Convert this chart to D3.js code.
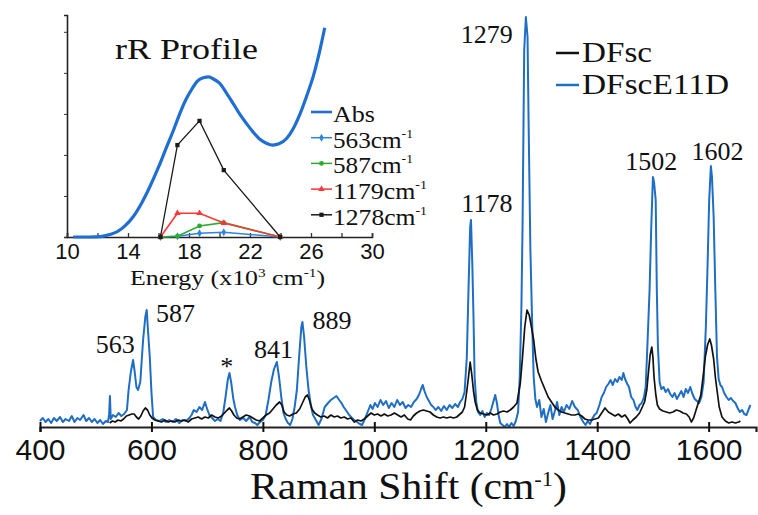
<!DOCTYPE html>
<html>
<head>
<meta charset="utf-8">
<script src="https://cdn.jsdelivr.net/npm/d3@7"></script>
<style>
body { margin: 0; background: #fff; }
svg { display: block; }
</style>
</head>
<body>
<svg id="chart" width="758" height="515"></svg>
<script>
// resonance Raman spectra, [Raman shift (cm-1), intensity (a.u.)]
const dfsc = [
  [525,4],[530,6],[535,5],[540,7],[545,6],[550,8],[555,11],[560,12],[565,13],[569,13],[573,10],[577,8],[581,11],[585,16],[589,19],[593,17],[597,12],[601,9],[606,7],[612,6],[618,5],[624,7],[630,5],[636,6],[642,5],[648,7],[654,6],[660,7],[666,5],[672,8],[678,9],[684,10],[690,8],[696,10],[702,9],[708,12],[714,10],[720,9],[726,11],[731,14],[736,17],[740,19],[744,16],[748,12],[753,9],[758,8],[764,10],[770,12],[776,11],[782,9],[788,7],[794,6],[800,9],[806,12],[812,14],[818,18],[824,22],[830,25],[834,22],[838,15],[843,12],[848,11],[854,13],[860,14],[866,18],[871,24],[876,30],[880,32],[884,26],[888,18],[893,14],[898,12],[904,10],[910,11],[916,9],[922,12],[928,10],[934,11],[940,9],[946,10],[952,8],[958,9],[964,5],[970,7],[976,6],[982,8],[988,11],[994,14],[1000,12],[1006,13],[1012,11],[1018,13],[1024,11],[1030,12],[1036,14],[1042,12],[1048,10],[1054,12],[1060,8],[1065,7],[1070,11],[1076,14],[1082,16],[1088,17],[1094,16],[1100,15],[1106,12],[1112,10],[1118,9],[1124,10],[1130,9],[1136,10],[1142,9],[1148,10],[1154,13],[1158,15],[1162,20],[1166,36],[1169,50],[1172,65],[1175,52],[1178,36],[1181,25],[1185,17],[1190,14],[1196,13],[1202,12],[1208,14],[1214,12],[1220,13],[1226,15],[1232,16],[1238,15],[1244,17],[1250,20],[1256,24],[1262,44],[1266,70],[1270,100],[1274,117],[1278,112],[1282,100],[1286,87],[1290,68],[1294,55],[1300,46],[1306,38],[1312,30],[1318,25],[1324,20],[1330,17],[1336,15],[1342,14],[1348,13],[1354,12],[1360,12],[1366,13],[1372,11],[1378,8],[1384,7],[1390,7],[1396,8],[1402,9],[1408,14],[1414,19],[1420,15],[1426,13],[1432,11],[1438,13],[1444,10],[1450,12],[1455,8],[1459,4],[1464,7],[1470,10],[1476,14],[1481,20],[1485,25],[1489,37],[1492,55],[1495,72],[1498,80],[1500,70],[1502,50],[1505,33],[1508,22],[1512,18],[1518,16],[1524,15],[1530,14],[1536,15],[1542,17],[1548,16],[1554,14],[1560,13],[1565,10],[1569,5],[1573,9],[1578,18],[1582,25],[1586,32],[1590,50],[1594,70],[1598,82],[1602,88],[1605,82],[1609,68],[1612,50],[1615,37],[1619,20],[1624,10],[1630,6],[1636,4],[1642,5],[1648,4],[1654,5],[1657,6]
];
const dfscE11D = [
  [400,6],[405,9],[410,5],[415,8],[420,4],[425,9],[430,6],[436,10],[441,5],[446,8],[452,6],[457,11],[462,5],[467,9],[472,7],[478,12],[483,6],[488,9],[493,5],[498,8],[503,4],[508,7],[513,3],[518,6],[522,5],[524,12],[525.5,31],[527,8],[531,12],[536,10],[541,14],[546,11],[551,13],[556,17],[559,37],[563,55],[567,67],[570,55],[573,40],[576,37],[580,45],[585,87],[589,110],[591.5,117],[594,95],[597,70],[600,35],[603,10],[608,7],[614,6],[620,8],[626,5],[632,7],[638,5],[644,8],[650,4],[656,7],[662,6],[668,9],[672,12],[676,17],[681,15],[686,20],[691,17],[696,25],[700,18],[704,12],[709,9],[714,6],[719,8],[724,6],[729,15],[733,30],[737,47],[740,54],[743,45],[747,28],[750,20],[754,12],[759,7],[765,9],[770,6],[776,10],[781,5],[786,4],[790,2],[795,5],[800,7],[805,12],[810,27],[815,45],[820,58],[825,65],[829,50],[833,30],[837,14],[841,8],[845,4],[849,2],[853,8],[857,20],[861,37],[865,70],[869,100],[871,105],[874,90],[878,60],[882,37],[886,22],[890,12],[894,8],[900,2],[905,8],[911,20],[917,24],[922,27],[927,29],[932,31],[937,27],[941,24],[945,20],[950,16],[955,12],[960,9],[964,7],[969,5],[974,3],[978,2],[983,8],[988,15],[993,22],[997,18],[1001,24],[1006,20],[1011,27],[1016,22],[1021,26],[1026,19],[1031,24],[1036,20],[1041,27],[1046,22],[1051,25],[1056,19],[1061,22],[1066,20],[1071,25],[1076,28],[1080,32],[1084,38],[1087,42],[1090,36],[1094,30],[1098,26],[1102,22],[1106,20],[1110,17],[1115,20],[1120,16],[1125,21],[1130,17],[1135,22],[1140,19],[1145,23],[1150,20],[1154,25],[1158,28],[1162,35],[1166,70],[1169,137],[1172,200],[1173.5,207],[1176,160],[1178,110],[1180,50],[1183,25],[1186,15],[1190,12],[1194,16],[1198,10],[1202,14],[1206,12],[1210,18],[1214,26],[1217,32],[1220,24],[1223,12],[1226,4],[1230,2],[1234,0],[1238,3],[1242,0],[1246,4],[1250,1],[1254,6],[1258,15],[1261,50],[1264,120],[1266,200],[1269,377],[1272,410],[1275,390],[1277,300],[1280,180],[1283,110],[1286,50],[1289,28],[1292,20],[1296,27],[1300,10],[1304,18],[1308,5],[1312,14],[1316,22],[1320,8],[1324,16],[1328,25],[1332,12],[1336,20],[1340,15],[1345,22],[1350,18],[1355,26],[1360,20],[1365,17],[1370,10],[1375,5],[1379,2],[1383,6],[1387,3],[1391,8],[1395,12],[1399,14],[1404,22],[1408,30],[1412,34],[1416,40],[1420,43],[1424,47],[1428,42],[1432,48],[1436,45],[1440,50],[1444,47],[1447,54],[1450,48],[1454,43],[1457,40],[1461,30],[1465,27],[1469,20],[1472,17],[1476,22],[1480,24],[1484,30],[1487,40],[1490,80],[1494,137],[1497,200],[1500,250],[1502,245],[1505,227],[1507,137],[1509,80],[1512,45],[1515,38],[1519,40],[1523,35],[1527,38],[1531,33],[1535,30],[1539,34],[1543,28],[1547,32],[1551,36],[1555,30],[1559,38],[1563,34],[1567,40],[1571,33],[1575,28],[1579,26],[1583,24],[1587,30],[1591,45],[1595,100],[1598,160],[1601,227],[1604,261],[1606,250],[1609,210],[1612,137],[1615,70],[1618,48],[1621,42],[1624,40],[1628,34],[1632,30],[1636,27],[1640,29],[1644,26],[1648,24],[1652,19],[1656,15],[1660,17],[1664,13],[1668,12],[1672,18],[1675,22]
];
const shiftTicks = [400, 600, 800, 1000, 1200, 1400, 1600];
// peak annotations: label, shift, intensity at label baseline
const peakText = ['563', '587', '*', '841', '889', '1178', '1279', '1502', '1602'];
const peakShift = [535, 643, 735, 819, 924, 1202, 1202, 1497, 1616];
const peakLevel = [74, 105, 52, 69, 98, 215, 384, 257, 267];
const seriesNames = ['DFsc', 'DFscE11D'];

// inset: rR excitation profile
const absEnergy = [10.4, 11.5, 12.2, 12.8, 13.3, 13.8, 14.35, 14.9, 15.44, 16.0, 16.54, 17.0, 17.41, 17.8, 18.18, 18.55, 18.94, 19.3, 19.6, 20.0, 20.47, 20.9, 21.35, 21.8, 22.22, 22.65, 23.1, 23.5, 23.9, 24.4, 24.85, 25.28, 25.7, 26.15, 26.55, 26.9];
const absValue  = [0, 0, 0.01, 0.06, 0.13, 0.27, 0.5, 0.83, 1.23, 1.7, 2.2, 2.62, 3.02, 3.35, 3.6, 3.8, 3.88, 3.9, 3.85, 3.75, 3.5, 3.25, 2.98, 2.75, 2.55, 2.38, 2.28, 2.24, 2.27, 2.4, 2.65, 3.0, 3.42, 3.92, 4.5, 5.1];
const rrEnergy = [16.13, 17.24, 18.69, 20.28, 23.98];
const rr563  = [0, 0.02, 0.09, 0.115, 0];
const rr587  = [0, 0.02, 0.27, 0.35, 0];
const rr1179 = [0, 0.58, 0.58, 0.34, 0];
const rr1278 = [0, 2.24, 2.83, 1.63, 0];
const energyTicks = [10, 12, 14, 16, 18, 20, 22, 24, 26, 28, 30];
const energyLabels = [10, 14, 18, 22, 26, 30];
const absTicks = [0, 1, 2, 3, 4, 5];
const profileNames = ['563', '587', '1179', '1278'];

const SERIF = '"Liberation Serif", "Times New Roman", Times, serif';
const SANS = '"Liberation Sans", Arial, Helvetica, sans-serif';
const svg = d3.select('#chart');
const blue = '#1f6ec4';

// small helper so every label gets the same serif setup
const serifText = (parent, px, size) => parent.append('text')
  .style('font-family', SERIF).style('font-size', size + 'px').attr('fill', '#111').attr('x', px);

// ---------- main spectrum ----------
const x = d3.scaleLinear().domain([400, 1685]).range([40, 756]);
const y = d3.scaleLinear().domain([0, 410]).range([427, 17]);
const line = d3.line().x(d => x(d[0])).y(d => y(d[1]));

svg.append('path').datum(dfscE11D).attr('d', line)
  .attr('fill', 'none').attr('stroke', blue).attr('stroke-width', 2).attr('stroke-linejoin', 'round');
svg.append('path').datum(dfsc).attr('d', line)
  .attr('fill', 'none').attr('stroke', '#111').attr('stroke-width', 1.7).attr('stroke-linejoin', 'round');

let xAxis = svg.append('g').attr('transform', 'translate(0,' + y(0) + ')')
  .call(d3.axisBottom(x).tickValues(shiftTicks).tickFormat(d3.format('d'))
    .tickSizeOuter(0).tickSize(5).tickPadding(7));
xAxis.select('.domain').attr('stroke', '#222').attr('stroke-width', 2.2);
xAxis.selectAll('.tick line').attr('y1', -5).attr('y2', 5).attr('stroke', '#111').attr('stroke-width', 2);
xAxis.selectAll('.tick text').style('font-family', SANS).style('font-size', '30px').attr('fill', '#111');

let xTitle = serifText(svg, 250, 37).attr('y', 499)
  .attr('textLength', 317).attr('lengthAdjust', 'spacingAndGlyphs');
xTitle.append('tspan').text('Raman Shift (cm');
xTitle.append('tspan').attr('dy', -13).style('font-size', '20px').text('-1');
xTitle.append('tspan').attr('dy', 13).text(')');

peakText.forEach((t, i) => {
  serifText(svg, x(peakShift[i]), 26).attr('text-anchor', 'middle')
    .attr('y', y(peakLevel[i])).text(t);
});

// legend
seriesNames.forEach((name, i) => {
  let ly = 53 + i * 32;
  svg.append('line').attr('x1', 556).attr('x2', 579).attr('y1', ly).attr('y2', ly)
    .attr('stroke', i ? blue : '#111').attr('stroke-width', 2.5);
  serifText(svg, 582, 30).attr('y', ly + 9)
    .attr('textLength', i ? 147 : 70).attr('lengthAdjust', 'spacingAndGlyphs')
    .text(name);
});

// ---------- inset ----------
const xi = d3.scaleLinear().domain([10, 30]).range([67, 372]);
const yi = d3.scaleLinear().domain([0, 5.41]).range([237, 15]);
const inset = svg.append('g');

let yiAxis = inset.append('g').attr('transform', 'translate(' + xi(10) + ',0)')
  .call(d3.axisLeft(yi).tickValues(absTicks).tickSizeOuter(0).tickSize(3).tickFormat(''));
yiAxis.select('.domain').attr('stroke', '#222').attr('stroke-width', 1.6);
yiAxis.selectAll('.tick line').attr('stroke', '#333');
yiAxis.selectAll('.tick text').remove();

let xiAxis = inset.append('g').attr('transform', 'translate(0,' + yi(0) + ')')
  .call(d3.axisBottom(xi).tickValues(energyTicks).tickSizeOuter(0).tickSize(-4).tickPadding(6)
    .tickFormat(d => energyLabels.includes(d) ? d : ''));
xiAxis.select('.domain').attr('stroke', '#222').attr('stroke-width', 1.6);
xiAxis.selectAll('.tick line').attr('stroke', '#333').attr('stroke-width', 1.3);
xiAxis.selectAll('.tick text').filter(d => !energyLabels.includes(d)).remove();
xiAxis.selectAll('.tick text').style('font-family', SANS).style('font-size', '22px').attr('fill', '#111');

serifText(inset, 115, 29).attr('y', 59)
  .attr('textLength', 143).attr('lengthAdjust', 'spacingAndGlyphs')
  .text('rR Profile');

let eTitle = serifText(inset, 130, 22).attr('y', 285)
  .attr('textLength', 195).attr('lengthAdjust', 'spacingAndGlyphs');
eTitle.append('tspan').text('Energy (x10');
eTitle.append('tspan').attr('dy', -8).style('font-size', '13px').text('3');
eTitle.append('tspan').attr('dy', 8).text(' cm');
eTitle.append('tspan').attr('dy', -8).style('font-size', '13px').text('-1');
eTitle.append('tspan').attr('dy', 8).text(')');

const absLine = d3.line().curve(d3.curveMonotoneX).x((d, i) => xi(absEnergy[i])).y(d => yi(d));
inset.append('path').datum(absValue).attr('d', absLine)
  .attr('fill', 'none').attr('stroke', '#1f6fd2').attr('stroke-width', 3.2);

const profileColors = ['#2d84dc', '#2faa2f', '#ff3535', '#1a1a1a'];
const profileShapes = [d3.symbolDiamond, d3.symbolCircle, d3.symbolTriangle, d3.symbolSquare];
const rrLine = d3.line().x((d, i) => xi(rrEnergy[i])).y(d => yi(d));
[rr563, rr587, rr1179, rr1278].forEach((vals, k) => {
  inset.append('path').datum(vals).attr('d', rrLine)
    .attr('fill', 'none').attr('stroke', profileColors[k]).attr('stroke-width', k === 3 ? 1.3 : 1.6);
  inset.selectAll(null).data(vals).join('path')
    .attr('transform', (d, i) => 'translate(' + xi(rrEnergy[i]) + ',' + yi(d) + ')')
    .attr('d', d3.symbol().type(profileShapes[k]).size(18))
    .attr('fill', profileColors[k]);
});

// inset legend
const legendRows = ['Abs'].concat(profileNames);
legendRows.forEach((name, i) => {
  let ly = 112 + i * 25.7;
  let g = inset.append('g');
  g.append('line').attr('x1', 311).attr('x2', 332).attr('y1', ly).attr('y2', ly)
    .attr('stroke', i ? profileColors[i - 1] : '#1f6fd2').attr('stroke-width', i ? 1.5 : 2.6);
  if (i) {
    g.append('path').attr('transform', 'translate(321.5,' + ly + ')')
      .attr('d', d3.symbol().type(profileShapes[i - 1]).size(18)).attr('fill', profileColors[i - 1]);
  }
  let t = serifText(g, 333, 24).attr('y', ly + 10);
  t.append('tspan').text(name);
  if (i) {
    t.append('tspan').text('cm');
    t.append('tspan').attr('dy', -10).style('font-size', '13px').text('-1');
    t.attr('textLength', name.length === 3 ? 80 : 94).attr('lengthAdjust', 'spacingAndGlyphs');
  } else {
    t.attr('textLength', 42).attr('lengthAdjust', 'spacingAndGlyphs');
  }
});
</script>
</body>
</html>
